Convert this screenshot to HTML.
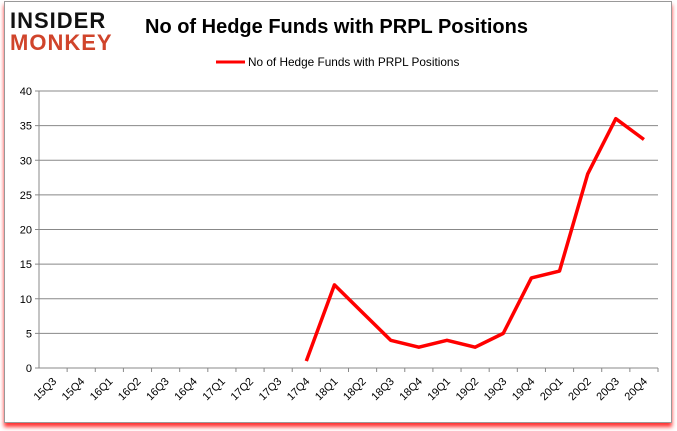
<!DOCTYPE html>
<html><head><meta charset="utf-8"><style>
body{margin:0;background:#fff;}
#wrap{position:relative;width:677px;height:431px;overflow:hidden;font-family:"Liberation Sans",sans-serif;}
#frame{position:absolute;left:4px;top:1px;width:666px;height:420px;border:1px solid #999;background:#fff;box-shadow:0 4px 4px #f33;}
</style></head><body>
<div id="wrap">
<div id="frame"></div>
<svg id="svg" width="677" height="431" style="position:absolute;left:0;top:0">
<g>
<text x="10" y="28" font-size="22" font-weight="bold" font-family="Liberation Sans,sans-serif" fill="#111" letter-spacing="1">INSIDER</text>
<text x="10" y="50" font-size="22" font-weight="bold" font-family="Liberation Sans,sans-serif" fill="#d0442b" letter-spacing="1">MONKEY</text>
</g>
<text x="145" y="33" font-size="20" font-weight="bold" fill="#000">No of Hedge Funds with PRPL Positions</text>
<line x1="216" y1="62" x2="245" y2="62" stroke="red" stroke-width="3"/>
<text x="248" y="66" font-size="11.8" fill="#000">No of Hedge Funds with PRPL Positions</text>
<g id="grid"></g><g id="axes"></g><g id="series"></g>
</svg>
</div>
<script>
const categories=["15Q3","15Q4","16Q1","16Q2","16Q3","16Q4","17Q1","17Q2","17Q3","17Q4","18Q1","18Q2","18Q3","18Q4","19Q1","19Q2","19Q3","19Q4","20Q1","20Q2","20Q3","20Q4"];
const values=[null,null,null,null,null,null,null,null,null,1,12,8,4,3,4,3,5,13,14,28,36,33];
const yTicks=[0,5,10,15,20,25,30,35,40];
const L=39,R=658,T=91,B=368,YMAX=40;
const step=(R-L)/categories.length;
const xs=i=>L+step*(i+0.5);
const ys=v=>B-(v/YMAX)*(B-T);
const NS="http://www.w3.org/2000/svg";
function mk(t,a,p){const e=document.createElementNS(NS,t);for(const k in a)e.setAttribute(k,a[k]);p.appendChild(e);return e;}
const grid=document.getElementById('grid'),axes=document.getElementById('axes'),ser=document.getElementById('series');
yTicks.forEach(v=>{
 const g=mk('line',{x1:L-4,x2:R,y1:ys(v),y2:ys(v),stroke:'#888','stroke-width':1},grid);
 
 
 const t=mk('text',{x:L-7,y:ys(v)+4,'font-size':11,'text-anchor':'end',fill:'#000'},axes);
 t.textContent=v;
 
 
});
const ya=mk('line',{x1:L,x2:L,y1:T,y2:B,stroke:'#888'},axes);


categories.forEach((c,i)=>{
 const tx=L+step*(i+1);
 const tk=mk('line',{x1:tx,x2:tx,y1:B,y2:B+4,stroke:'#888'},axes);
 
 
 const x=xs(i)+4,y=B+14;
 const t=mk('text',{x:x,y:y,'font-size':11,'text-anchor':'end',fill:'#000',transform:`rotate(-45 ${x} ${y})`},axes);
 t.textContent=c;
 
 
});
let d='';values.forEach((v,i)=>{if(v===null)return;d+=(d?'L':'M')+xs(i)+','+ys(v);});
const p=mk('path',{d:d,fill:'none',stroke:'red','stroke-width':3.5,'stroke-linejoin':'round'},ser);


</script>
</body></html>
